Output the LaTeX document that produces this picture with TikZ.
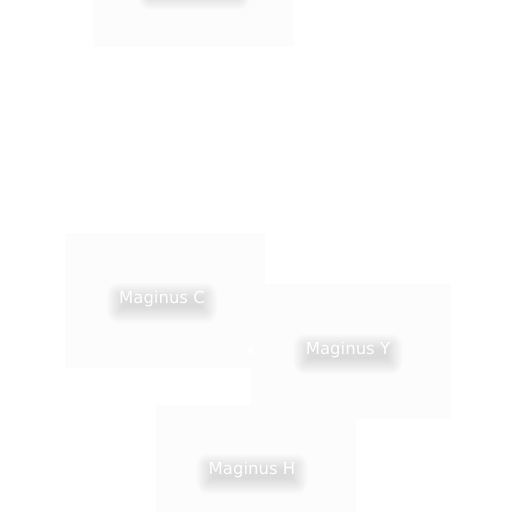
\documentclass[tikz,border=0pt]{standalone}
\usepackage{fontspec}
\setmainfont{DejaVu Sans}
\pgfdeclarelayer{cards}
\pgfdeclarelayer{shadows}
\pgfsetlayers{cards,shadows,main}
\begin{document}
\begin{tikzpicture}[x=1pt,y=-1pt,
  cardbox/.style={rectangle, fill=black!1, draw=none, minimum width=200pt, minimum height=135pt, inner sep=0pt},
  lbl/.style={text=white, font=\fontsize{16.5}{19}\selectfont, inner sep=0pt},
  blurlayer/.style={fill=black, opacity=0.013}]
\useasboundingbox (0,0) rectangle (512,512);
\begin{pgfonlayer}{cards}
\fill[white] (0,0) rectangle (512,512);
\node[cardbox] (top) at (194,-21) {};
\node[cardbox] (c) at (165,300) {};
\node[cardbox] (y) at (351,351) {};
\node[cardbox] (h) at (256,472) {};
\end{pgfonlayer}
\node[lbl] (tc) at (162,299) {Maginus C};
\node[lbl] (ty) at (348,350) {Maginus Y};
\node[lbl] (th) at (252,470) {Maginus H};
\coordinate (topshA) at (150,-14);
\coordinate (topshB) at (238,-2);
\begin{pgfonlayer}{shadows}
\foreach \n in {tc,ty,th}{
  \foreach \e in {-3,-1.5,0,1.5,3,4.5,6,7.5,9,10.5,12}{
    \fill[blurlayer, rounded corners={max(\e,1)*1pt}]
      ([shift={(-\e,-\e+4)}]\n.north west) rectangle ([shift={(\e,\e+4)}]\n.south east);
  }
}
\foreach \e in {-3,-1.5,0,1.5,3,4.5,6,7.5,9,10.5,12}{
  \fill[blurlayer, rounded corners={max(\e,1)*1pt}]
    ([shift={(-\e,-\e)}]topshA) rectangle ([shift={(\e,\e)}]topshB);
}
\end{pgfonlayer}
\coordinate (yend) at (y.west);
\fill[white] (yend) circle (3pt);
\end{tikzpicture}
\end{document}
